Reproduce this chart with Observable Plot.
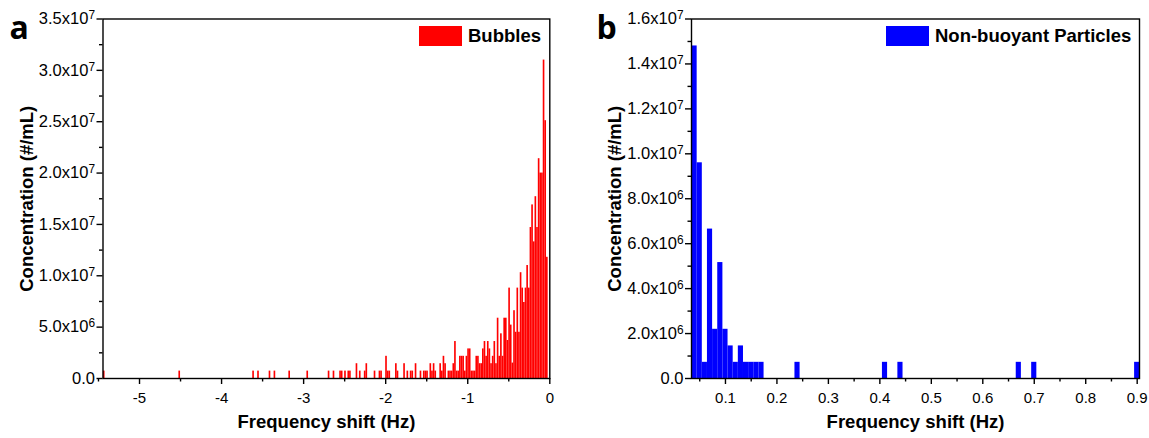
<!DOCTYPE html>
<html>
<head>
<meta charset="utf-8">
<script src="https://cdn.jsdelivr.net/npm/d3@7"></script>
<script src="https://cdn.jsdelivr.net/npm/@observablehq/plot@0.6"></script>
<style>
  html, body { margin: 0; padding: 0; background: #fff; }
  #wrap { position: relative; width: 1149px; height: 438px; display: flex; font-family: "Liberation Sans", Arial, sans-serif; }
  .panel { position: relative; }
  .legend { position: absolute; display: flex; align-items: center; font-weight: bold; font-size: 18.5px; color: #000; }
  .legend .sw { display: inline-block; width: 43px; height: 20px; margin-right: 6px; }
</style>
</head>
<body>
<div id="wrap"></div>
<script>
// ---------- Data ----------
// Panel a: bubbles (bin centres in Hz, concentration in #/mL)
const bubbleShift = [
  -5.43, -4.51, -3.61, -3.55, -3.41, -3.35, -3.17, -2.95, -2.69, -2.63,
  -2.55, -2.53, -2.49, -2.45, -2.43, -2.35, -2.31, -2.25, -2.23, -2.13,
  -2.07, -2.05, -1.99, -1.97, -1.95, -1.87, -1.85, -1.77, -1.73, -1.69,
  -1.67, -1.63, -1.57, -1.53, -1.51, -1.49, -1.45, -1.43, -1.41, -1.39,
  -1.33, -1.31, -1.29, -1.27, -1.23, -1.21, -1.19, -1.17, -1.15, -1.13,
  -1.11, -1.09, -1.07, -1.05, -1.03, -1.01, -0.99, -0.97, -0.95, -0.93,
  -0.91, -0.89, -0.87, -0.85, -0.83, -0.81, -0.79, -0.77, -0.75, -0.73,
  -0.71, -0.69, -0.67, -0.65, -0.63, -0.61, -0.59, -0.57, -0.55, -0.53,
  -0.51, -0.49, -0.47, -0.45, -0.43, -0.41, -0.39, -0.37, -0.35, -0.33,
  -0.31, -0.29, -0.27, -0.25, -0.23, -0.21, -0.19, -0.17, -0.15, -0.13,
  -0.11, -0.09, -0.07, -0.05, -0.03
];
const bubbleConc = [
  0.72e6, 0.72e6, 0.72e6, 0.72e6, 0.72e6, 0.72e6, 0.72e6, 0.72e6, 0.72e6, 0.72e6,
  0.72e6, 0.72e6, 0.72e6, 0.72e6, 0.72e6, 1.44e6, 0.72e6, 0.72e6, 1.44e6, 0.72e6,
  0.72e6, 0.72e6, 2.16e6, 0.72e6, 0.72e6, 1.44e6, 0.72e6, 1.44e6, 0.72e6, 0.72e6,
  0.72e6, 1.44e6, 0.72e6, 0.72e6, 0.72e6, 0.72e6, 1.44e6, 0.72e6, 1.44e6, 0.72e6,
  1.44e6, 0.72e6, 2.16e6, 1.44e6, 0.72e6, 0.72e6, 0.72e6, 1.44e6, 3.6e6, 0.72e6,
  0.72e6, 2.16e6, 2.16e6, 2.16e6, 0.72e6, 2.16e6, 2.88e6, 2.88e6, 0.72e6, 0.72e6,
  0.72e6, 2.16e6, 2.16e6, 1.44e6, 1.44e6, 2.88e6, 3.6e6, 2.16e6, 3.6e6, 2.88e6,
  1.44e6, 2.16e6, 3.6e6, 1.44e6, 5.87e6, 2.16e6, 4.35e6, 2.16e6, 5.87e6, 5.87e6,
  3.7e6, 8.8e6, 5.2e6, 1.5e6, 6.6e6, 4.5e6, 8.8e6, 4.5e6, 10.3e6, 8.8e6,
  7.4e6, 8.8e6, 11.0e6, 8.8e6, 14.7e6, 16.9e6, 13.3e6, 17.7e6, 14.7e6, 21.4e6,
  20.0e6, 20.0e6, 31.0e6, 25.1e6, 11.8e6
];
const bubbleBin = 0.02;

// Panel b: non-buoyant particles
const particleShift = [0.04, 0.05, 0.06, 0.07, 0.08, 0.09, 0.10, 0.11, 0.12, 0.13,
  0.14, 0.15, 0.16, 0.17, 0.24, 0.41, 0.44, 0.67, 0.70, 0.90];
const particleConc = [14.8e6, 9.6e6, 0.72e6, 6.65e6, 2.19e6, 5.16e6, 2.19e6, 1.45e6, 0.72e6, 1.45e6,
  0.72e6, 0.72e6, 0.72e6, 0.72e6, 0.72e6, 0.72e6, 0.72e6, 0.72e6, 0.72e6, 0.72e6];
const particleBin = 0.01;

// Axis ticks
const aXTicks = [-5, -4, -3, -2, -1, 0];
const aXMinor = [-5.5, -4.5, -3.5, -2.5, -1.5, -0.5];
const aYTicks = [0, 5e6, 10e6, 15e6, 20e6, 25e6, 30e6, 35e6];
const aYMinor = [2.5e6, 7.5e6, 12.5e6, 17.5e6, 22.5e6, 27.5e6, 32.5e6];
const bXTicks = [0.1, 0.2, 0.3, 0.4, 0.5, 0.6, 0.7, 0.8, 0.9];
const bXMinor = [0.05, 0.15, 0.25, 0.35, 0.45, 0.55, 0.65, 0.75, 0.85];
const bYTicks = [0, 2e6, 4e6, 6e6, 8e6, 10e6, 12e6, 14e6, 16e6];
const bYMinor = [1e6, 3e6, 5e6, 7e6, 9e6, 11e6, 13e6, 15e6];

const xTitle = "Frequency shift (Hz)";
const yTitle = "Concentration (#/mL)";

// ---------- Helpers ----------
function sciFormat(v) {
  if (v === 0) return "0.0";
  const e = Math.floor(Math.log10(v) + 1e-9);
  const m = v / Math.pow(10, e);
  return m.toFixed(1) + "x10^" + e;
}

function superscriptify(svg) {
  d3.select(svg).selectAll("g[aria-label='y-axis tick label'] text").each(function () {
    const t = this.textContent;
    if (t.indexOf("^") < 0) return;
    const [base, exp] = t.split("^");
    const sel = d3.select(this);
    sel.text(null);
    sel.append("tspan").text(base);
    sel.append("tspan").attr("dy", "-0.42em").attr("font-size", "0.72em").text(exp);
  });
}

function panel(cfg) {
  const data = cfg.xs.map((x, i) => ({x, v: cfg.vs[i]}));
  const hw = cfg.bin / 2;
  const fontFamily = '"Liberation Sans", Arial, sans-serif';
  const svg = Plot.plot({
    width: cfg.width,
    height: 438,
    marginLeft: cfg.marginLeft,
    marginRight: cfg.marginRight,
    marginTop: 18.5,
    marginBottom: 60,
    style: {fontFamily, fontSize: "14.5px", color: "#000", background: "#fff", overflow: "visible"},
    x: {domain: cfg.xDomain},
    y: {domain: cfg.yDomain},
    marks: [
      Plot.rectY(data, {x1: d => d.x - hw, x2: d => d.x + hw, y1: 0, y2: "v", fill: cfg.color, inset: 0}),
      Plot.frame({stroke: "#000", strokeWidth: 1.4}),
      Plot.axisX({ticks: cfg.xTicks, tickSize: 6, tickPadding: 8, fontSize: 15, tickFormat: d => String(d), label: null, strokeWidth: 1.4}),
      Plot.axisX({ticks: cfg.xMinor, tickSize: 3.5, tickFormat: () => "", label: null, strokeWidth: 1.4}),
      Plot.axisY({ticks: cfg.yTicks, tickSize: 6, tickPadding: 2, fontSize: 16.5, tickFormat: sciFormat, label: null, strokeWidth: 1.4}),
      Plot.axisY({ticks: cfg.yMinor, tickSize: 3.5, tickFormat: () => "", label: null, strokeWidth: 1.4}),
      Plot.text([xTitle], {frameAnchor: "bottom", dy: 44, textAnchor: "middle", lineAnchor: "middle", fontSize: 18.5, fontWeight: "bold", fill: "#000"}),
      Plot.text([yTitle], {frameAnchor: "left", dx: cfg.yTitleDx, rotate: -90, textAnchor: "middle", lineAnchor: "middle", fontSize: 18.5, fontWeight: "bold", fill: "#000"}),
      Plot.text([cfg.letter], {frameAnchor: "top-left", dx: cfg.letterDx, dy: 20, textAnchor: "start", lineAnchor: "bottom", fontSize: 32, fontWeight: "bold", fill: "#000", fontFamily: '"Open Sans", "Liberation Sans", sans-serif'})
    ]
  });
  superscriptify(svg);
  const div = document.createElement("div");
  div.className = "panel";
  div.style.width = cfg.width + "px";
  div.style.height = "438px";
  div.appendChild(svg);
  const lg = document.createElement("div");
  lg.className = "legend";
  lg.style.left = cfg.legendLeft + "px";
  lg.style.top = "25px";
  const sw = document.createElement("span");
  sw.className = "sw";
  sw.style.background = cfg.color;
  const tx = document.createElement("span");
  tx.textContent = cfg.name;
  lg.appendChild(sw);
  lg.appendChild(tx);
  div.appendChild(lg);
  return div;
}

const wrap = document.getElementById("wrap");
wrap.appendChild(panel({
  width: 575, marginLeft: 102.5, marginRight: 575 - 549.3,
  xDomain: [-5.445, 0], yDomain: [0, 3.5e7],
  xs: bubbleShift, vs: bubbleConc, bin: bubbleBin, color: "#ff0000",
  xTicks: aXTicks, xMinor: aXMinor, yTicks: aYTicks, yMinor: aYMinor,
  yTitleDx: -75.5, letter: "a", letterDx: -93.5,
  name: "Bubbles", legendLeft: 419
}));
wrap.appendChild(panel({
  width: 574, marginLeft: 116, marginRight: 574 - 564,
  xDomain: [0.034, 0.9045], yDomain: [0, 1.6e7],
  xs: particleShift, vs: particleConc, bin: particleBin, color: "#0000ff",
  xTicks: bXTicks, xMinor: bXMinor, yTicks: bYTicks, yMinor: bYMinor,
  yTitleDx: -76, letter: "b", letterDx: -95,
  name: "Non-buoyant Particles", legendLeft: 886 - 575
}));
</script>
</body>
</html>
